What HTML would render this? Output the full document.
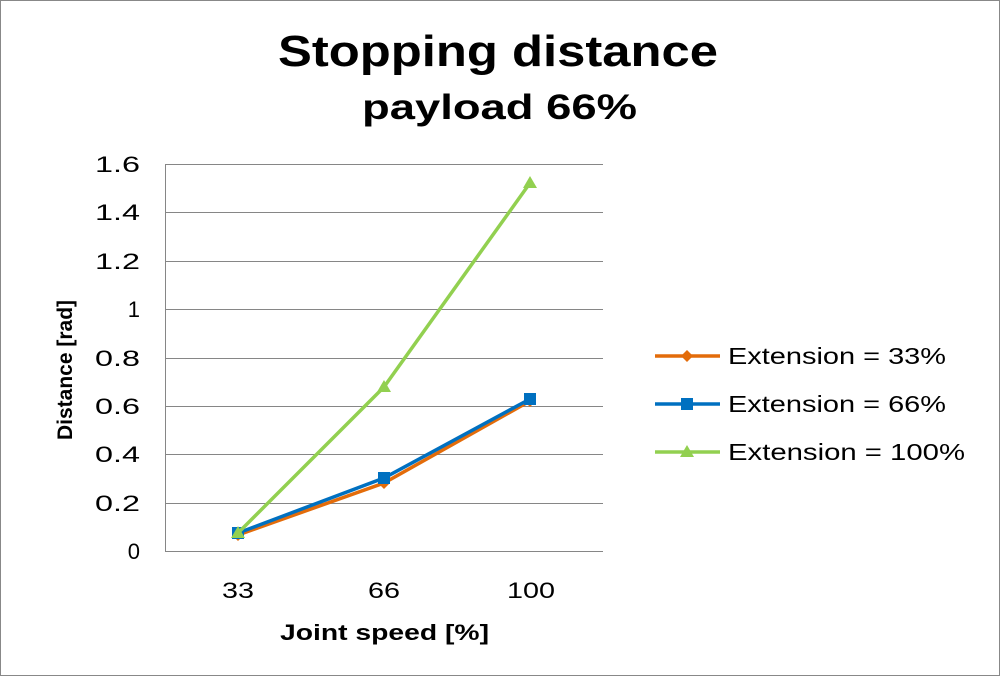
<!DOCTYPE html>
<html><head><meta charset="utf-8"><style>
html,body{margin:0;padding:0;background:#fff;}
svg{display:block;font-family:"Liberation Sans",sans-serif;}
</style></head><body>
<svg width="1000" height="676" viewBox="0 0 1000 676">
<rect x="0.5" y="0.5" width="999" height="675" fill="#fff" stroke="#888"/>
<text x="278" y="66" font-size="44" font-weight="bold" textLength="440" lengthAdjust="spacingAndGlyphs">Stopping distance</text>
<text x="362" y="119" font-size="35" font-weight="bold" textLength="275" lengthAdjust="spacingAndGlyphs">payload 66%</text>
<g stroke="#868686" stroke-width="1">
<line x1="165" x2="603" y1="164.5" y2="164.5"/>
<line x1="165" x2="603" y1="212.5" y2="212.5"/>
<line x1="165" x2="603" y1="261.5" y2="261.5"/>
<line x1="165" x2="603" y1="309.5" y2="309.5"/>
<line x1="165" x2="603" y1="358.5" y2="358.5"/>
<line x1="165" x2="603" y1="406.5" y2="406.5"/>
<line x1="165" x2="603" y1="454.5" y2="454.5"/>
<line x1="165" x2="603" y1="503.5" y2="503.5"/>
<line x1="165" x2="603" y1="551.5" y2="551.5"/>
<line x1="165.5" x2="165.5" y1="164" y2="551"/>
</g>
<g font-size="22" fill="#000">
<text x="95" y="172" textLength="45" lengthAdjust="spacingAndGlyphs">1.6</text>
<text x="95" y="220" textLength="45" lengthAdjust="spacingAndGlyphs">1.4</text>
<text x="95" y="269" textLength="45" lengthAdjust="spacingAndGlyphs">1.2</text>
<text x="140" y="317" text-anchor="end">1</text>
<text x="95" y="366" textLength="45" lengthAdjust="spacingAndGlyphs">0.8</text>
<text x="95" y="414" textLength="45" lengthAdjust="spacingAndGlyphs">0.6</text>
<text x="95" y="462" textLength="45" lengthAdjust="spacingAndGlyphs">0.4</text>
<text x="95" y="511" textLength="45" lengthAdjust="spacingAndGlyphs">0.2</text>
<text x="140" y="559" text-anchor="end">0</text>
</g>
<g font-size="22">
<text x="222" y="598" textLength="32" lengthAdjust="spacingAndGlyphs">33</text>
<text x="368" y="598" textLength="32" lengthAdjust="spacingAndGlyphs">66</text>
<text x="507" y="598" textLength="48" lengthAdjust="spacingAndGlyphs">100</text>
</g>
<text x="280" y="640" font-size="22" font-weight="bold" textLength="209" lengthAdjust="spacingAndGlyphs">Joint speed [%]</text>
<text transform="translate(72,370) rotate(-90)" text-anchor="middle" font-size="21" font-weight="bold">Distance [rad]</text>
<polyline points="238,535 384,483 530,401" fill="none" stroke="#E36C0A" stroke-width="3.5"/>
<g fill="#E36C0A"><path d="M238,529l6,6-6,6-6-6z"/><path d="M384,477l6,6-6,6-6-6z"/><path d="M530,395l6,6-6,6-6-6z"/></g>
<polyline points="238,533 384,478 530,399" fill="none" stroke="#0070C0" stroke-width="3.5"/>
<g fill="#0070C0"><rect x="232" y="527" width="12" height="12"/><rect x="378" y="472" width="12" height="12"/><rect x="524" y="393" width="12" height="12"/></g>
<polyline points="238,533 384,387 530,183" fill="none" stroke="#92D050" stroke-width="3.5"/>
<g fill="#92D050"><path d="M238,526l7,12h-14z"/><path d="M384,380l7,12h-14z"/><path d="M530,176l7,12h-14z"/></g>
<line x1="655" x2="720" y1="356" y2="356" stroke="#E36C0A" stroke-width="3.5"/><path d="M687,350l6,6-6,6-6-6z" fill="#E36C0A"/>
<line x1="655" x2="720" y1="404" y2="404" stroke="#0070C0" stroke-width="3.5"/><rect x="681" y="398" width="12" height="12" fill="#0070C0"/>
<line x1="655" x2="720" y1="452" y2="452" stroke="#92D050" stroke-width="3.5"/><path d="M687,445l7,12h-14z" fill="#92D050"/>
<g font-size="23">
<text x="728" y="364" textLength="218" lengthAdjust="spacingAndGlyphs">Extension = 33%</text>
<text x="728" y="412" textLength="218" lengthAdjust="spacingAndGlyphs">Extension = 66%</text>
<text x="728" y="460" textLength="237" lengthAdjust="spacingAndGlyphs">Extension = 100%</text>
</g>
</svg>
</body></html>
